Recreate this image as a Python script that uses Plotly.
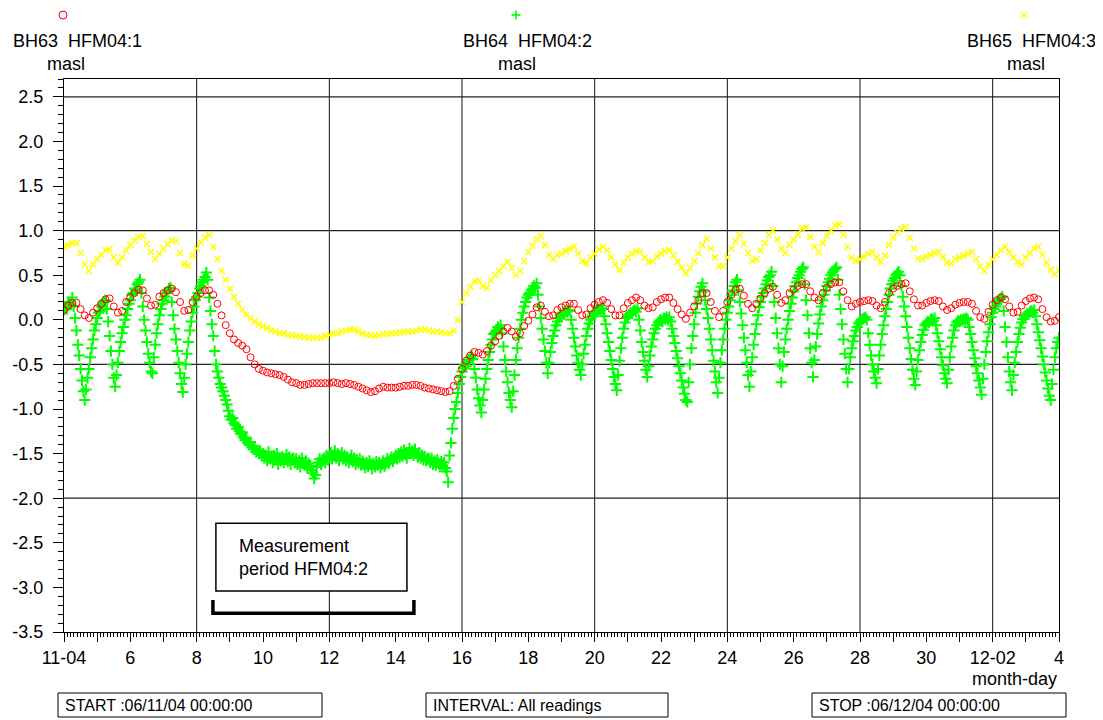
import plotly.graph_objects as go

# ---------------- data ----------------
# x is in days after 2004-11-04 00:00
RED_STEP_H = 3      # BH63 HFM04:1, one value every 3 h
YEL_STEP_H = 3      # BH65 HFM04:3, one value every 3 h
GRN_STEP_H = 1      # BH64 HFM04:2, one value every hour

RED = [
    0.11, 0.16, 0.19, 0.19, 0.12, 0.05, 0.02, 0.08,
    0.13, 0.18, 0.23, 0.24, 0.15, 0.08, 0.10, 0.20,
    0.25, 0.30, 0.34, 0.33, 0.24, 0.16, 0.17, 0.26,
    0.30, 0.33, 0.35, 0.31, 0.20, 0.10, 0.11, 0.20,
    0.26, 0.30, 0.33, 0.33, 0.28, 0.18, 0.05, -0.06,
    -0.15, -0.22, -0.26, -0.29, -0.33, -0.42, -0.50, -0.55,
    -0.57, -0.59, -0.60, -0.61, -0.62, -0.64, -0.67, -0.70,
    -0.71, -0.73, -0.73, -0.72, -0.71, -0.71, -0.71, -0.71,
    -0.71, -0.70, -0.71, -0.72, -0.71, -0.72, -0.73, -0.75,
    -0.77, -0.79, -0.81, -0.80, -0.77, -0.75, -0.76, -0.76,
    -0.76, -0.75, -0.74, -0.74, -0.73, -0.73, -0.74, -0.76,
    -0.77, -0.78, -0.79, -0.80, -0.81, -0.80, -0.74, -0.66,
    -0.55, -0.46, -0.40, -0.36, -0.37, -0.39, -0.35, -0.29,
    -0.24, -0.18, -0.13, -0.09, -0.13, -0.19, -0.15, -0.07,
    -0.01, 0.06, 0.14, 0.16, 0.09, 0.04, 0.05, 0.11,
    0.14, 0.16, 0.18, 0.18, 0.11, 0.05, 0.06, 0.13,
    0.17, 0.20, 0.22, 0.19, 0.12, 0.05, 0.05, 0.13,
    0.19, 0.22, 0.25, 0.22, 0.16, 0.13, 0.14, 0.20,
    0.23, 0.25, 0.25, 0.19, 0.12, 0.06, 0.01, 0.08,
    0.15, 0.22, 0.30, 0.30, 0.20, 0.10, 0.03, 0.10,
    0.20, 0.28, 0.34, 0.35, 0.27, 0.18, 0.13, 0.18,
    0.24, 0.30, 0.35, 0.37, 0.28, 0.19, 0.22, 0.30,
    0.34, 0.38, 0.40, 0.40, 0.32, 0.25, 0.22, 0.30,
    0.36, 0.40, 0.42, 0.42, 0.32, 0.22, 0.15, 0.18,
    0.20, 0.21, 0.22, 0.21, 0.16, 0.13, 0.20, 0.30,
    0.35, 0.38, 0.40, 0.41, 0.32, 0.23, 0.16, 0.16,
    0.19, 0.21, 0.22, 0.21, 0.15, 0.11, 0.13, 0.17,
    0.19, 0.20, 0.20, 0.18, 0.10, 0.03, 0.01, 0.09,
    0.17, 0.22, 0.25, 0.23, 0.15, 0.08, 0.09, 0.16,
    0.21, 0.24, 0.25, 0.23, 0.12, 0.03, -0.02, -0.01,
    0.03,
]

YELLOW = [
    0.81, 0.84, 0.86, 0.86, 0.75, 0.62, 0.55, 0.62,
    0.68, 0.73, 0.78, 0.79, 0.70, 0.64, 0.70, 0.78,
    0.84, 0.89, 0.93, 0.94, 0.85, 0.76, 0.68, 0.74,
    0.80, 0.85, 0.89, 0.88, 0.75, 0.63, 0.61, 0.72,
    0.80, 0.87, 0.92, 0.95, 0.82, 0.68, 0.55, 0.45,
    0.35, 0.26, 0.18, 0.11, 0.06, 0.02, -0.02, -0.05,
    -0.07, -0.09, -0.12, -0.13, -0.15, -0.15, -0.17, -0.17,
    -0.18, -0.19, -0.19, -0.20, -0.20, -0.20, -0.20, -0.18,
    -0.17, -0.15, -0.15, -0.13, -0.12, -0.11, -0.11, -0.13,
    -0.15, -0.17, -0.17, -0.18, -0.17, -0.16, -0.16, -0.15,
    -0.15, -0.14, -0.14, -0.13, -0.13, -0.12, -0.11, -0.11,
    -0.12, -0.13, -0.13, -0.14, -0.15, -0.15, -0.12, 0.00,
    0.20, 0.30, 0.37, 0.43, 0.44, 0.38, 0.36, 0.44,
    0.50, 0.55, 0.60, 0.65, 0.58, 0.50, 0.55, 0.66,
    0.76, 0.83, 0.90, 0.94, 0.84, 0.73, 0.68, 0.73,
    0.74, 0.77, 0.80, 0.82, 0.74, 0.66, 0.63, 0.70,
    0.74, 0.79, 0.82, 0.78, 0.70, 0.62, 0.56, 0.64,
    0.70, 0.74, 0.77, 0.76, 0.70, 0.65, 0.66, 0.71,
    0.74, 0.77, 0.78, 0.72, 0.65, 0.58, 0.52, 0.58,
    0.66, 0.75, 0.84, 0.91, 0.80, 0.70, 0.60, 0.60,
    0.70, 0.80, 0.88, 0.95, 0.85, 0.75, 0.66, 0.68,
    0.78, 0.86, 0.95, 1.00, 0.90, 0.80, 0.75, 0.84,
    0.90, 0.96, 1.02, 1.04, 0.93, 0.82, 0.76, 0.86,
    0.94, 1.00, 1.06, 1.07, 0.95, 0.82, 0.70, 0.66,
    0.68, 0.71, 0.74, 0.76, 0.70, 0.65, 0.72, 0.84,
    0.92, 0.98, 1.02, 1.04, 0.92, 0.80, 0.69, 0.68,
    0.71, 0.73, 0.75, 0.76, 0.70, 0.64, 0.63, 0.68,
    0.70, 0.72, 0.74, 0.76, 0.68, 0.60, 0.55, 0.62,
    0.68, 0.73, 0.78, 0.82, 0.76, 0.70, 0.65, 0.62,
    0.70, 0.75, 0.80, 0.82, 0.73, 0.64, 0.56, 0.51,
    0.56,
]

GREEN = [
    # day 0 (11-04)
    0.11, 0.14, 0.12, 0.18, 0.20, 0.17, 0.25, 0.15, 0.02, -0.12, -0.28, -0.40,
    -0.55, -0.68, -0.80, -0.90, -0.78, -0.65, -0.55, -0.42, -0.32, -0.22, -0.12, -0.05,
    # day 1
    0.02, 0.08, 0.10, 0.15, 0.18, 0.20, 0.22, 0.12, -0.02, -0.18, -0.35, -0.50,
    -0.65, -0.75, -0.62, -0.48, -0.35, -0.25, -0.15, -0.08, 0.00, 0.05, 0.12, 0.18,
    # day 2
    0.22, 0.28, 0.30, 0.35, 0.33, 0.40, 0.42, 0.45, 0.30, 0.15, 0.00, -0.12,
    -0.25, -0.38, -0.48, -0.58, -0.60, -0.42, -0.28, -0.15, -0.05, 0.05, 0.12, 0.18,
    # day 3
    0.22, 0.26, 0.30, 0.32, 0.35, 0.36, 0.20, 0.05, -0.10, -0.22, -0.35, -0.48,
    -0.60, -0.72, -0.81, -0.65, -0.50, -0.38, -0.25, -0.12, -0.02, 0.08, 0.15, 0.22,
    # day 4
    0.26, 0.30, 0.35, 0.38, 0.42, 0.45, 0.48, 0.53, 0.45, 0.25, 0.10, -0.05,
    -0.18, -0.35, -0.50, -0.58, -0.65, -0.72, -0.76, -0.80, -0.85, -0.90, -0.95, -1.02,
    # day 5
    -1.08, -1.12, -1.10, -1.16, -1.18, -1.22, -1.20, -1.25, -1.28, -1.26, -1.32, -1.35,
    -1.33, -1.38, -1.40, -1.37, -1.43, -1.45, -1.42, -1.48, -1.46, -1.50, -1.47, -1.52,
    # day 6
    -1.50, -1.55, -1.52, -1.58, -1.48, -1.56, -1.53, -1.60, -1.52, -1.57, -1.50, -1.62,
    -1.55, -1.58, -1.53, -1.60, -1.56, -1.51, -1.59, -1.54, -1.62, -1.57, -1.55, -1.60,
    # day 7
    -1.56, -1.62, -1.58, -1.65, -1.55, -1.60, -1.63, -1.58, -1.66, -1.61, -1.64, -1.68,
    -1.72, -1.78, -1.74, -1.65, -1.60, -1.56, -1.62, -1.58, -1.55, -1.60, -1.52, -1.57,
    # day 8
    -1.53, -1.49, -1.56, -1.52, -1.47, -1.55, -1.50, -1.58, -1.53, -1.49, -1.56, -1.52,
    -1.58, -1.54, -1.60, -1.56, -1.52, -1.59, -1.55, -1.62, -1.57, -1.60, -1.56, -1.63,
    # day 9
    -1.58, -1.62, -1.66, -1.60, -1.64, -1.58, -1.62, -1.67, -1.61, -1.65, -1.59, -1.63,
    -1.60, -1.66, -1.62, -1.58, -1.64, -1.60, -1.56, -1.61, -1.57, -1.54, -1.59, -1.55,
    # day 10
    -1.52, -1.56, -1.50, -1.54, -1.48, -1.53, -1.46, -1.51, -1.55, -1.49, -1.44, -1.50,
    -1.47, -1.52, -1.45, -1.50, -1.54, -1.49, -1.55, -1.52, -1.57, -1.53, -1.58, -1.55,
    # day 11
    -1.56, -1.60, -1.55, -1.62, -1.58, -1.63, -1.57, -1.61, -1.65, -1.59, -1.63, -1.60,
    -1.66, -1.70, -1.82, -1.52, -1.38, -1.22, -1.10, -1.00, -0.92, -0.82, -0.72, -0.64,
    # day 12
    -0.58, -0.54, -0.50, -0.52, -0.47, -0.45, -0.42, -0.40, -0.44, -0.55, -0.65, -0.78,
    -0.88, -0.96, -1.04, -0.90, -0.78, -0.66, -0.55, -0.45, -0.36, -0.28, -0.22, -0.16,
    # day 13
    -0.14, -0.12, -0.08, -0.10, -0.06, -0.15, -0.30, -0.45, -0.58, -0.70, -0.82, -0.90,
    -0.98, -0.80, -0.62, -0.45, -0.32, -0.20, -0.10, 0.00, 0.08, 0.15, 0.20, 0.25,
    # day 14
    0.28, 0.30, 0.33, 0.35, 0.38, 0.36, 0.41, 0.28, 0.15, 0.02, -0.10, -0.22,
    -0.35, -0.48, -0.60, -0.48, -0.36, -0.26, -0.18, -0.12, -0.06, -0.02, 0.02, 0.05,
    # day 15
    0.05, 0.08, 0.06, 0.10, 0.09, 0.11, 0.10, 0.00, -0.10, -0.20, -0.30, -0.40,
    -0.48, -0.56, -0.62, -0.50, -0.38, -0.28, -0.18, -0.10, -0.04, 0.00, 0.04, 0.07,
    # day 16
    0.08, 0.10, 0.09, 0.12, 0.11, 0.13, 0.12, 0.04, -0.05, -0.15, -0.25, -0.35,
    -0.45, -0.55, -0.64, -0.72, -0.79, -0.62, -0.46, -0.32, -0.20, -0.10, -0.03, 0.02,
    # day 17
    0.04, 0.06, 0.08, 0.07, 0.10, 0.11, 0.09, 0.13, 0.00, -0.12, -0.25, -0.36,
    -0.46, -0.56, -0.64, -0.52, -0.40, -0.30, -0.22, -0.15, -0.10, -0.06, -0.03, -0.01,
    # day 18
    0.00, -0.02, 0.02, 0.01, 0.03, 0.00, 0.03, -0.02, -0.10, -0.18, -0.26, -0.35,
    -0.43, -0.52, -0.60, -0.68, -0.76, -0.83, -0.90, -0.92, -0.70, -0.50, -0.32, -0.18,
    # day 19
    -0.05, 0.08, 0.18, 0.26, 0.32, 0.37, 0.41, 0.32, 0.22, 0.12, 0.02, -0.10,
    -0.22, -0.34, -0.46, -0.58, -0.70, -0.82, -0.65, -0.48, -0.34, -0.22, -0.10, 0.00,
    # day 20
    0.08, 0.15, 0.22, 0.28, 0.33, 0.38, 0.42, 0.45, 0.33, 0.20, 0.07, -0.06,
    -0.20, -0.34, -0.48, -0.62, -0.75, -0.58, -0.42, -0.28, -0.16, -0.05, 0.05, 0.14,
    # day 21
    0.20, 0.26, 0.30, 0.35, 0.40, 0.44, 0.48, 0.50, 0.54, 0.38, 0.20, 0.02,
    -0.15, -0.32, -0.50, -0.70, -0.52, -0.36, -0.22, -0.10, 0.00, 0.10, 0.18, 0.25,
    # day 22
    0.32, 0.38, 0.42, 0.47, 0.50, 0.54, 0.57, 0.59, 0.40, 0.22, 0.05, -0.15,
    -0.32, -0.48, -0.64, -0.45, -0.30, -0.16, -0.04, 0.06, 0.15, 0.22, 0.28, 0.33,
    # day 23
    0.38, 0.42, 0.46, 0.50, 0.53, 0.55, 0.57, 0.59, 0.45, 0.28, 0.12, -0.05,
    -0.22, -0.38, -0.55, -0.70, -0.55, -0.42, -0.32, -0.24, -0.18, -0.12, -0.08, -0.04,
    # day 24
    -0.02, 0.00, 0.01, 0.02, 0.03, 0.00, -0.15, -0.28, -0.40, -0.50, -0.58, -0.65,
    -0.71, -0.55, -0.40, -0.28, -0.16, -0.06, 0.04, 0.12, 0.20, 0.28, 0.35, 0.40,
    # day 25
    0.44, 0.47, 0.50, 0.52, 0.54, 0.50, 0.38, 0.26, 0.15, 0.04, -0.08, -0.20,
    -0.32, -0.44, -0.56, -0.66, -0.73, -0.58, -0.45, -0.34, -0.25, -0.17, -0.11, -0.06,
    # day 26
    -0.04, -0.02, -0.03, 0.00, 0.01, -0.01, 0.02, -0.06, -0.15, -0.24, -0.33, -0.42,
    -0.51, -0.60, -0.66, -0.71, -0.56, -0.42, -0.30, -0.20, -0.12, -0.06, -0.03, -0.01,
    # day 27
    -0.02, 0.00, -0.01, 0.01, 0.00, 0.02, 0.00, -0.08, -0.16, -0.25, -0.34, -0.43,
    -0.52, -0.60, -0.68, -0.76, -0.84, -0.66, -0.50, -0.36, -0.24, -0.14, -0.05, 0.03,
    # day 28
    0.08, 0.12, 0.15, 0.18, 0.21, 0.23, 0.24, 0.26, 0.10, -0.08, -0.25, -0.42,
    -0.58, -0.70, -0.79, -0.62, -0.48, -0.36, -0.25, -0.16, -0.09, -0.03, 0.01, 0.04,
    # day 29
    0.05, 0.07, 0.06, 0.09, 0.10, 0.08, 0.11, 0.04, -0.05, -0.14, -0.23, -0.32,
    -0.41, -0.50, -0.59, -0.68, -0.77, -0.85, -0.90, -0.72, -0.56, -0.42, -0.32, -0.25,
    # 12-04 00:00
    -0.20,
]

X_TICK_DAYS = list(range(0, 31))
X_TICK_LABELS = {0: "11-04", 2: "6", 4: "8", 6: "10", 8: "12", 10: "14", 12: "16",
                 14: "18", 16: "20", 18: "22", 20: "24", 22: "26", 24: "28",
                 26: "30", 28: "12-02", 30: "4"}
Y_TICKS = [-3.5, -3.0, -2.5, -2.0, -1.5, -1.0, -0.5, 0.0, 0.5, 1.0, 1.5, 2.0, 2.5]
GRID_X = [4, 8, 12, 16, 20, 24, 28]
GRID_Y = [-2.0, -0.5, 1.0, 2.5]
X_RANGE = [0, 30]
Y_RANGE = [-3.5, 2.7]

# ---------------- figure ----------------
# the page body has an 8 px margin, so the figure is 8 px smaller
PAGE_OFF = 8
W, H = 1103 - PAGE_OFF, 720 - PAGE_OFF
PL, PT, PR, PB = 64, 79, 1059, 632          # plot area in page pixels
PW, PH = PR - PL, PB - PT
L, T = PL - PAGE_OFF, PT - PAGE_OFF
R, B = W - L - PW, H - T - PH


def px(xp):
    return (xp - PL) / PW


def py(yp):
    return (PB - yp) / PH


def times(n, step_h):
    return [i * step_h / 24.0 for i in range(n)]


fig = go.Figure()
fig.add_trace(go.Scatter(
    x=times(len(GREEN), GRN_STEP_H), y=GREEN, mode="markers", name="BH64 HFM04:2",
    marker=dict(symbol="cross-thin", size=8, color="#00ff00",
                line=dict(width=2, color="#00ff00"))))
fig.add_trace(go.Scatter(
    x=times(len(RED), RED_STEP_H), y=RED, mode="markers", name="BH63 HFM04:1",
    marker=dict(symbol="circle-open", size=7, color="#ff0000",
                line=dict(width=1, color="#ff0000"))))
fig.add_trace(go.Scatter(
    x=times(len(YELLOW), YEL_STEP_H), y=YELLOW, mode="markers", name="BH65 HFM04:3",
    marker=dict(symbol="x-thin", size=6, color="#ffff00",
                line=dict(width=1.5, color="#ffff00"))))

FONT = "Liberation Sans, Arial, sans-serif"

fig.update_layout(
    width=W, height=H, margin=dict(l=L, r=R, t=T, b=B, autoexpand=False),
    paper_bgcolor="white", plot_bgcolor="white", showlegend=False,
    font=dict(family=FONT, size=18, color="black"),
    xaxis=dict(range=X_RANGE, tickmode="array", tickvals=X_TICK_DAYS,
               ticktext=[X_TICK_LABELS.get(d, "") for d in X_TICK_DAYS],
               ticks="outside", ticklen=9, tickwidth=1, tickcolor="black",
               showgrid=False, zeroline=False, showline=True, linecolor="black",
               linewidth=1, mirror=True, tickfont=dict(size=18),
               minor=dict(dtick=0.1, tick0=0, ticks="outside", ticklen=4,
                          tickcolor="black", showgrid=False)),
    yaxis=dict(range=Y_RANGE, tickmode="array", tickvals=Y_TICKS,
               ticktext=[f"{v:.1f}" for v in Y_TICKS],
               ticks="outside", ticklen=10, tickwidth=1, tickcolor="black",
               showgrid=False, zeroline=False, showline=True, linecolor="black",
               linewidth=1, mirror=True, tickfont=dict(size=18),
               ticklabelstandoff=6,
               minor=dict(dtick=0.1, tick0=-3.5, ticks="outside", ticklen=5,
                          tickcolor="black", showgrid=False)),
)

# grid lines
for gx in GRID_X:
    fig.add_shape(type="line", xref="x", yref="y", x0=gx, x1=gx,
                  y0=Y_RANGE[0], y1=Y_RANGE[1], layer="below",
                  line=dict(color="#111", width=1))
for gy in GRID_Y:
    fig.add_shape(type="line", xref="x", yref="y", x0=X_RANGE[0], x1=X_RANGE[1],
                  y0=gy, y1=gy, layer="below",
                  line=dict(color="#222", width=1.3))

# measurement period box + bracket
fig.add_shape(type="rect", xref="x", yref="y", x0=4.58, x1=10.34, y0=-3.04, y1=-2.28,
              fillcolor="white", line=dict(color="black", width=1.5), layer="above")
fig.add_shape(type="path", xref="x", yref="y",
              path="M 4.49,-3.14 L 4.49,-3.29 L 10.55,-3.29 L 10.55,-3.14",
              line=dict(color="black", width=3.5), layer="above")
fig.add_annotation(x=5.22, y=-2.66, xref="x", yref="y", xanchor="left", yanchor="middle",
                   align="left", showarrow=False,
                   text="Measurement<br>period HFM04:2", font=dict(size=18))

# header legend symbols, drawn as small shapes (page pixel positions)
fig.add_shape(type="circle", xref="paper", yref="paper",
              x0=px(59), x1=px(67), y0=py(19), y1=py(11),
              line=dict(color="#ff0000", width=1))
fig.add_shape(type="line", xref="paper", yref="paper",
              x0=px(511.5), x1=px(520.5), y0=py(15), y1=py(15),
              line=dict(color="#00ff00", width=1.6))
fig.add_shape(type="line", xref="paper", yref="paper",
              x0=px(516), x1=px(516), y0=py(19.5), y1=py(10.5),
              line=dict(color="#00ff00", width=1.6))
fig.add_shape(type="line", xref="paper", yref="paper",
              x0=px(1021), x1=px(1027), y0=py(18), y1=py(12),
              line=dict(color="#ffff00", width=1.3))
fig.add_shape(type="line", xref="paper", yref="paper",
              x0=px(1021), x1=px(1027), y0=py(12), y1=py(18),
              line=dict(color="#ffff00", width=1.3))

# header labels (page pixel positions)
heads = [
    (77, 66, "BH63\u00a0\u00a0HFM04:1"),
    (527, 517, "BH64\u00a0\u00a0HFM04:2"),
    (1031, 1026, "BH65\u00a0\u00a0HFM04:3"),
]
for lx, ux, lab in heads:
    fig.add_annotation(x=px(lx), y=py(41), xref="paper", yref="paper", showarrow=False,
                       text=lab, font=dict(size=18), xanchor="center", yanchor="middle")
    fig.add_annotation(x=px(ux), y=py(64), xref="paper", yref="paper", showarrow=False,
                       text="masl", font=dict(size=18), xanchor="center", yanchor="middle")

fig.add_annotation(x=px(1059), y=py(679), xref="paper", yref="paper", showarrow=False,
                   text="month-day", font=dict(size=18), xanchor="right", yanchor="middle")

# footer boxes (page pixel positions)
footer = [
    (58, 322, "START :06/11/04 00:00:00"),
    (426, 668, "INTERVAL: All readings"),
    (812, 1066, "STOP :06/12/04 00:00:00"),
]
for x0, x1, txt in footer:
    fig.add_shape(type="rect", xref="paper", yref="paper", x0=px(x0), x1=px(x1),
                  y0=py(717), y1=py(693), line=dict(color="black", width=1),
                  fillcolor="white")
    fig.add_annotation(x=px(x0 + 5), y=py(705), xref="paper", yref="paper",
                       showarrow=False, text=txt, font=dict(size=16),
                       xanchor="left", yanchor="middle")

fig.write_html("out.html")
